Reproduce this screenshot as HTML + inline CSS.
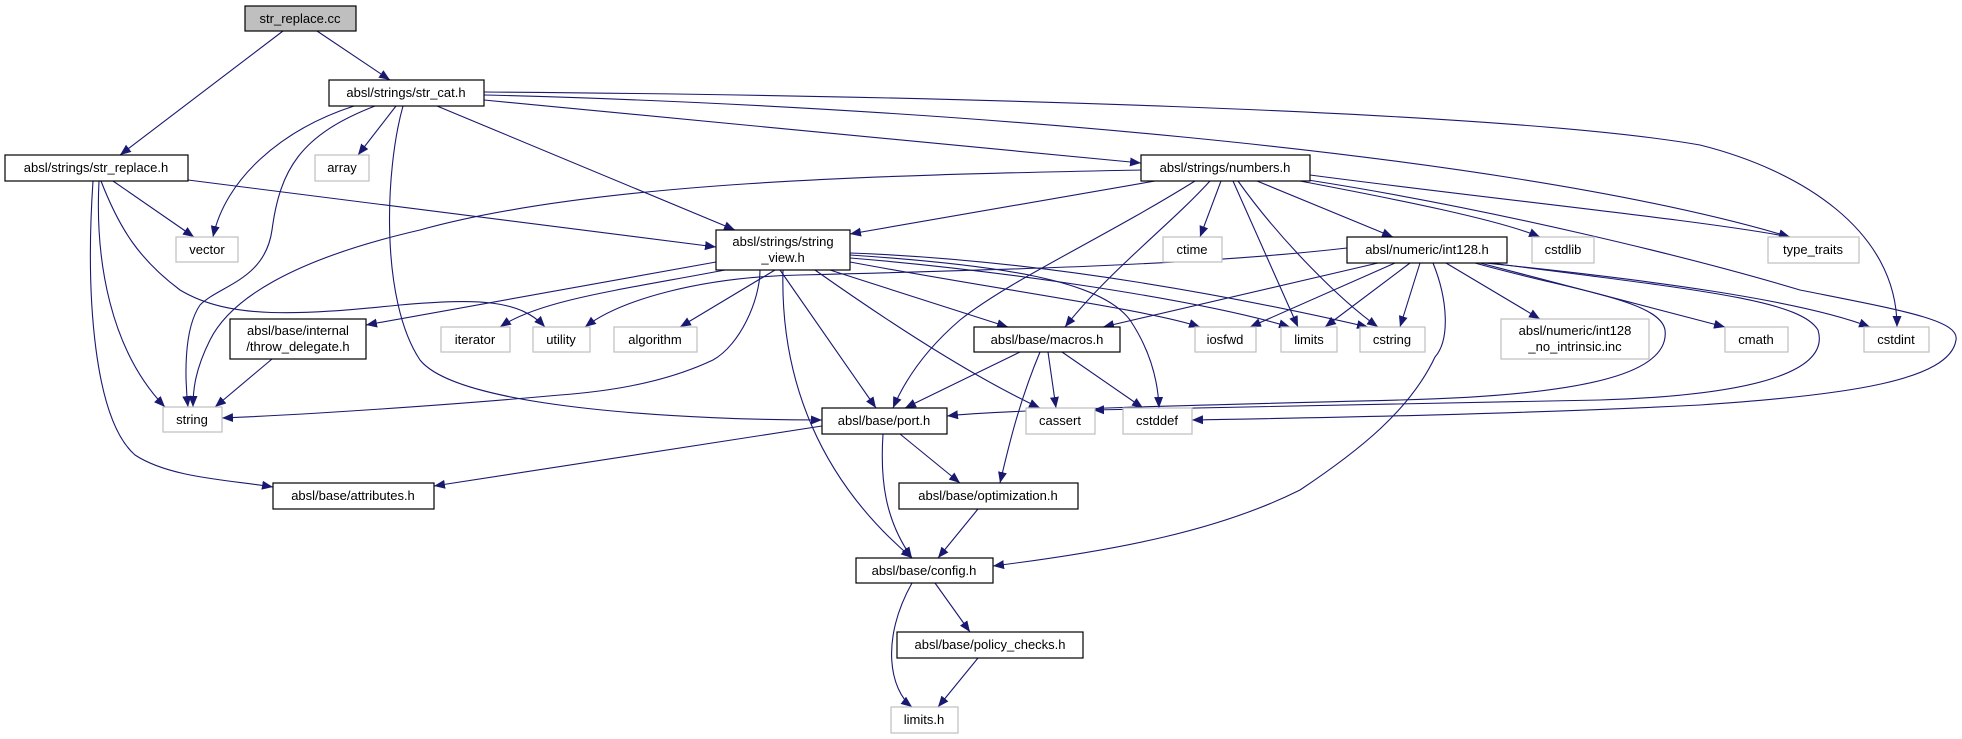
<!DOCTYPE html>
<html><head><meta charset="utf-8"><style>
html,body{margin:0;padding:0;background:#fff;}
svg{display:block;}
text{font-family:"Liberation Sans",sans-serif;font-size:13px;text-anchor:middle;fill:#000;}
.n{fill:#fff;stroke:#000;stroke-width:1.2;}
.s{fill:#fff;stroke:#bfbfbf;stroke-width:1.2;}
.e{fill:none;stroke:#191970;stroke-width:1.1;marker-end:url(#a);}
</style></head><body>
<svg width="1962" height="739" viewBox="0 0 1962 739" xmlns="http://www.w3.org/2000/svg">
<defs><marker id="a" markerUnits="userSpaceOnUse" markerWidth="12" markerHeight="10" refX="11" refY="4.5" orient="auto"><path d="M0,0 L11,4.5 L0,9 z" fill="#191970"/></marker></defs>

<!-- edges -->
<path class="e" d="M283,31 L120,155"/>
<path class="e" d="M317,31 L390,80"/>
<path class="e" d="M354,106 C280,130 225,180 213,237"/>
<path class="e" d="M375,106 C300,135 280,170 272,230 C265,280 220,285 200,305 C183,330 185,380 188,407"/>
<path class="e" d="M396,106 L358,155"/>
<path class="e" d="M403,106 C385,170 380,300 420,360 C460,410 700,420 822,420"/>
<path class="e" d="M437,106 L735,230"/>
<path class="e" d="M484,100 L1141,163"/>
<path class="e" d="M484,95 C900,105 1500,150 1790,237"/>
<path class="e" d="M484,92 C900,95 1500,110 1700,145 C1800,170 1897,230 1897,327"/>

<path class="e" d="M113,181 L194,237"/>
<path class="e" d="M188,180 L716,247"/>
<path class="e" d="M99,181 C95,260 110,350 165,407"/>
<path class="e" d="M93,181 C85,300 95,420 135,455 C170,478 230,480 273,487"/>
<path class="e" d="M101,181 C120,230 140,260 180,290 C230,320 300,315 400,305 C480,298 520,300 545,327"/>

<path class="e" d="M272,359 L215,407"/>

<path class="e" d="M1155,181 L850,234"/>
<path class="e" d="M1141,170 C900,175 600,180 420,230 C290,260 230,300 210,340 C195,370 193,390 193,407"/>
<path class="e" d="M1195,181 C1100,240 1010,280 960,320 C925,350 905,380 893,408"/>
<path class="e" d="M1210,181 C1170,225 1110,270 1065,327"/>
<path class="e" d="M1221,181 L1200,237"/>
<path class="e" d="M1233,181 L1298,327"/>
<path class="e" d="M1238,181 C1280,240 1340,300 1378,327"/>
<path class="e" d="M1257,181 L1393,237"/>
<path class="e" d="M1300,181 C1400,200 1500,220 1540,237"/>
<path class="e" d="M1310,175 C1500,200 1700,220 1790,237"/>
<path class="e" d="M1308,180 C1500,210 1700,260 1800,290 C1900,310 1960,320 1956,340 C1950,380 1850,395 1700,405 C1500,415 1300,418 1192,420"/>

<path class="e" d="M716,262 L366,325"/>
<path class="e" d="M725,270 C620,290 540,300 500,327"/>
<path class="e" d="M775,270 L680,327"/>
<path class="e" d="M760,270 C760,300 740,345 713,360 C660,385 600,392 560,395 C450,405 300,415 222,418"/>
<path class="e" d="M780,270 L876,408"/>
<path class="e" d="M783,270 C780,380 820,480 912,558"/>
<path class="e" d="M830,270 L1008,327"/>
<path class="e" d="M815,270 C900,330 980,380 1040,408"/>
<path class="e" d="M850,255 C1000,265 1100,280 1130,320 C1150,350 1158,380 1159,408"/>
<path class="e" d="M850,262 C1000,290 1150,310 1200,327"/>
<path class="e" d="M850,258 C1000,270 1200,300 1290,327"/>
<path class="e" d="M850,253 C1050,260 1250,300 1368,327"/>

<path class="e" d="M1347,248 C1200,265 1000,270 800,275 C700,277 620,300 585,327"/>
<path class="e" d="M1378,263 L1103,327"/>
<path class="e" d="M1395,263 L1250,327"/>
<path class="e" d="M1410,263 L1325,327"/>
<path class="e" d="M1420,263 L1400,327"/>
<path class="e" d="M1433,263 C1448,300 1450,340 1435,357 C1410,410 1360,450 1300,490 C1220,530 1120,550 993,566"/>
<path class="e" d="M1446,263 L1540,319"/>
<path class="e" d="M1480,263 L1725,327"/>
<path class="e" d="M1485,263 C1650,280 1800,300 1870,327"/>
<path class="e" d="M1475,263 C1570,290 1660,300 1665,330 C1670,370 1600,395 1400,400 C1200,405 1000,410 947,416"/>
<path class="e" d="M1490,263 C1700,290 1800,300 1818,330 C1830,370 1760,395 1600,400 C1400,405 1200,408 1093,410"/>

<path class="e" d="M1020,352 L905,408"/>
<path class="e" d="M1048,352 L1056,408"/>
<path class="e" d="M1062,352 L1143,408"/>
<path class="e" d="M1040,352 C1020,400 1010,440 1000,483"/>

<path class="e" d="M822,426 L434,486"/>
<path class="e" d="M900,434 L960,483"/>
<path class="e" d="M883,434 C880,480 885,520 912,558"/>
<path class="e" d="M978,509 L938,558"/>
<path class="e" d="M935,583 L970,632"/>
<path class="e" d="M912,583 C880,640 890,690 912,707"/>
<path class="e" d="M978,658 L938,707"/>

<!-- nodes -->
<rect x="245" y="6" width="111" height="25" fill="#bfbfbf" stroke="#000" stroke-width="1.2"/><text x="300" y="23">str_replace.cc</text>
<rect class="n" x="329" y="80" width="155" height="26"/><text x="406" y="97">absl/strings/str_cat.h</text>
<rect class="n" x="5" y="155" width="183" height="26"/><text x="96" y="172">absl/strings/str_replace.h</text>
<rect class="s" x="315" y="155" width="54" height="26"/><text x="342" y="172">array</text>
<rect class="s" x="176" y="237" width="62" height="25"/><text x="207" y="254">vector</text>
<rect class="n" x="1141" y="155" width="169" height="26"/><text x="1225" y="172">absl/strings/numbers.h</text>
<rect class="n" x="716" y="230" width="134" height="40"/><text x="783" y="246">absl/strings/string</text><text x="783" y="262">_view.h</text>
<rect class="s" x="1163" y="237" width="59" height="25"/><text x="1192" y="254">ctime</text>
<rect class="n" x="1347" y="237" width="160" height="26"/><text x="1427" y="254">absl/numeric/int128.h</text>
<rect class="s" x="1532" y="237" width="62" height="26"/><text x="1563" y="254">cstdlib</text>
<rect class="s" x="1768" y="237" width="91" height="26"/><text x="1813" y="254">type_traits</text>
<rect class="n" x="230" y="319" width="136" height="40"/><text x="298" y="335">absl/base/internal</text><text x="298" y="351">/throw_delegate.h</text>
<rect class="s" x="441" y="327" width="69" height="25"/><text x="475" y="344">iterator</text>
<rect class="s" x="533" y="327" width="57" height="25"/><text x="561" y="344">utility</text>
<rect class="s" x="614" y="327" width="83" height="25"/><text x="655" y="344">algorithm</text>
<rect class="n" x="974" y="327" width="146" height="25"/><text x="1047" y="344">absl/base/macros.h</text>
<rect class="s" x="1195" y="327" width="61" height="25"/><text x="1225" y="344">iosfwd</text>
<rect class="s" x="1281" y="327" width="56" height="25"/><text x="1309" y="344">limits</text>
<rect class="s" x="1360" y="327" width="65" height="25"/><text x="1392" y="344">cstring</text>
<rect class="s" x="1501" y="319" width="148" height="40"/><text x="1575" y="335">absl/numeric/int128</text><text x="1575" y="351">_no_intrinsic.inc</text>
<rect class="s" x="1725" y="327" width="63" height="25"/><text x="1756" y="344">cmath</text>
<rect class="s" x="1864" y="327" width="65" height="25"/><text x="1896" y="344">cstdint</text>
<rect class="s" x="163" y="407" width="59" height="25"/><text x="192" y="424">string</text>
<rect class="n" x="822" y="408" width="125" height="26"/><text x="884" y="425">absl/base/port.h</text>
<rect class="s" x="1026" y="408" width="69" height="26"/><text x="1060" y="425">cassert</text>
<rect class="s" x="1123" y="408" width="69" height="26"/><text x="1157" y="425">cstddef</text>
<rect class="n" x="273" y="483" width="161" height="26"/><text x="353" y="500">absl/base/attributes.h</text>
<rect class="n" x="899" y="483" width="179" height="26"/><text x="988" y="500">absl/base/optimization.h</text>
<rect class="n" x="856" y="558" width="137" height="25"/><text x="924" y="575">absl/base/config.h</text>
<rect class="n" x="897" y="632" width="186" height="26"/><text x="990" y="649">absl/base/policy_checks.h</text>
<rect class="s" x="891" y="707" width="67" height="26"/><text x="924" y="724">limits.h</text>
</svg>
</body></html>
